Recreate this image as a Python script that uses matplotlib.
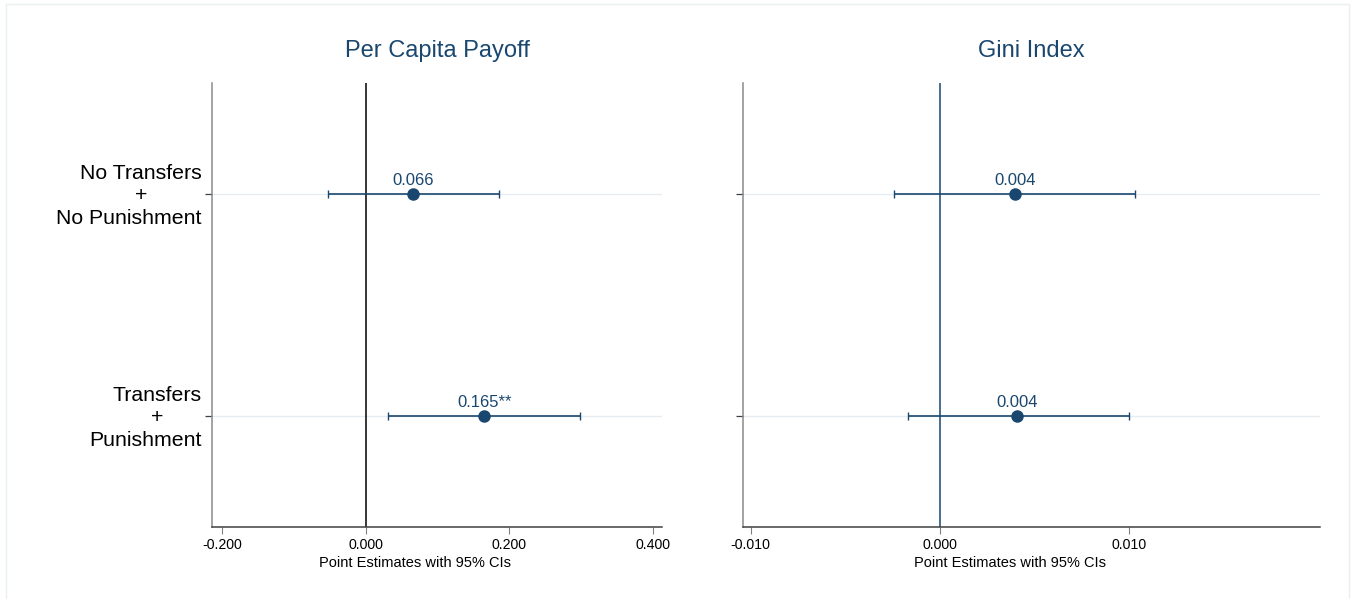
import matplotlib
matplotlib.use("Agg")
import matplotlib.pyplot as plt
from matplotlib.patches import Rectangle
from matplotlib.transforms import blended_transform_factory

plt.rcParams['font.family'] = ['Liberation Sans', 'DejaVu Sans']

# Treatment rows (top to bottom): first line, connector, last line
categories = [("No Transfers", "+", "No Punishment"),
              ("Transfers", "+", "Punishment")]

# Per capita payoff: estimates and 95% CI bounds
payoff_est = [0.066, 0.165]
payoff_lo = [-0.053, 0.031]
payoff_hi = [0.185, 0.299]
payoff_labels = ["0.066", "0.165**"]
payoff_ticks = [-0.2, 0.0, 0.2, 0.4]
payoff_ticklabels = ["-0.200", "0.000", "0.200", "0.400"]

# Gini index: estimates and 95% CI bounds
gini_est = [0.0040, 0.0041]
gini_lo = [-0.0024, -0.0017]
gini_hi = [0.0103, 0.0100]
gini_labels = ["0.004", "0.004"]
gini_ticks = [-0.01, 0.0, 0.01]
gini_ticklabels = ["-0.010", "0.000", "0.010"]

NAVY = "#1a476f"
GRID = "#e6edf2"
DPI = 100

fig = plt.figure(figsize=(13.53, 5.99), dpi=DPI)
fig.patches.append(Rectangle((6 / 1353, -0.05), 1343 / 1353, 1.05 - 4 / 599,
                             transform=fig.transFigure, fill=False,
                             edgecolor="#eaf0f0", linewidth=1.0))

ax1 = fig.add_axes([212 / 1353, 1 - 527 / 599, 450 / 1353, 444 / 599])
ax2 = fig.add_axes([743 / 1353, 1 - 527 / 599, 577 / 1353, 444 / 599])


def row_labels(ax, ypos):
    """Three-line category labels; the '+' sits centred under the first line."""
    renderer = fig.canvas.get_renderer()
    tr = blended_transform_factory(ax.transAxes, ax.transData)
    gap = -7.5          # points left of the axis
    step = 16.0         # points between lines
    base = -1.4         # vertical nudge of the whole block, points
    left_px = ax.transAxes.transform((0, 0))[0]
    for y, (first, mid, last) in zip(ypos, categories):
        t1 = ax.annotate(first, (0, y), xycoords=tr, xytext=(gap, base + step),
                         textcoords="offset points", ha="right", va="center",
                         fontsize=15.3, annotation_clip=False)
        bb = t1.get_window_extent(renderer)
        cx_pt = ((bb.x0 + bb.x1) / 2 - left_px) * 72 / DPI
        ax.annotate(mid, (0, y), xycoords=tr, xytext=(cx_pt, base),
                    textcoords="offset points", ha="center", va="center",
                    fontsize=15.3, annotation_clip=False)
        ax.annotate(last, (0, y), xycoords=tr, xytext=(gap, base - step),
                    textcoords="offset points", ha="right", va="center",
                    fontsize=15.3, annotation_clip=False)


def panel(ax, est, lo, hi, labels, ticks, ticklabels, xlim, zero_color,
          title, show_y, xlabel_x):
    ypos = list(range(1, len(est) + 1))
    for y in ypos:
        ax.axhline(y, color=GRID, linewidth=1.0, zorder=0)
    ax.axvline(0, color=zero_color, linewidth=1.1, zorder=1)
    xerr = [[e - l for e, l in zip(est, lo)], [h - e for e, h in zip(est, hi)]]
    ax.errorbar(est, ypos, xerr=xerr, fmt="o", color=NAVY, ecolor=NAVY,
                elinewidth=1.2, capsize=3, capthick=1.0, markersize=8, zorder=3)
    for e, y, t in zip(est, ypos, labels):
        ax.annotate(t, (e, y), xytext=(0, 4), textcoords="offset points",
                    ha="center", va="bottom", fontsize=12, color=NAVY)
    ax.set_xlim(*xlim)
    ax.set_ylim(2.5, 0.5)
    ax.set_yticks(ypos)
    ax.set_yticklabels([])
    ax.set_xticks(ticks)
    ax.set_xticklabels(ticklabels, fontsize=10.2)
    ax.set_xlabel("Point Estimates with 95% CIs", fontsize=10.5)
    ax.xaxis.set_label_coords(xlabel_x, -0.066)
    ax.set_title(title, fontsize=17, color=NAVY, pad=19)
    for s in ("top", "right"):
        ax.spines[s].set_visible(False)
    ax.spines["left"].set_color("#8a8a8a")
    ax.spines["left"].set_linewidth(1.1)
    ax.spines["bottom"].set_color("#404040")
    ax.spines["bottom"].set_linewidth(1.1)
    ax.tick_params(axis="x", length=5, width=0.8, color="#808080", pad=3)
    ax.tick_params(axis="y", length=5, width=0.9, color="#404040", pad=3)
    if show_y:
        row_labels(ax, ypos)


panel(ax1, payoff_est, payoff_lo, payoff_hi, payoff_labels, payoff_ticks,
      payoff_ticklabels, (-0.2139, 0.4125), "black", "Per Capita Payoff",
      True, 0.451)
panel(ax2, gini_est, gini_lo, gini_hi, gini_labels, gini_ticks,
      gini_ticklabels, (-0.0104, 0.0201), NAVY, "Gini Index", False, 0.463)

fig.savefig("out.png", dpi=DPI, facecolor="white")
